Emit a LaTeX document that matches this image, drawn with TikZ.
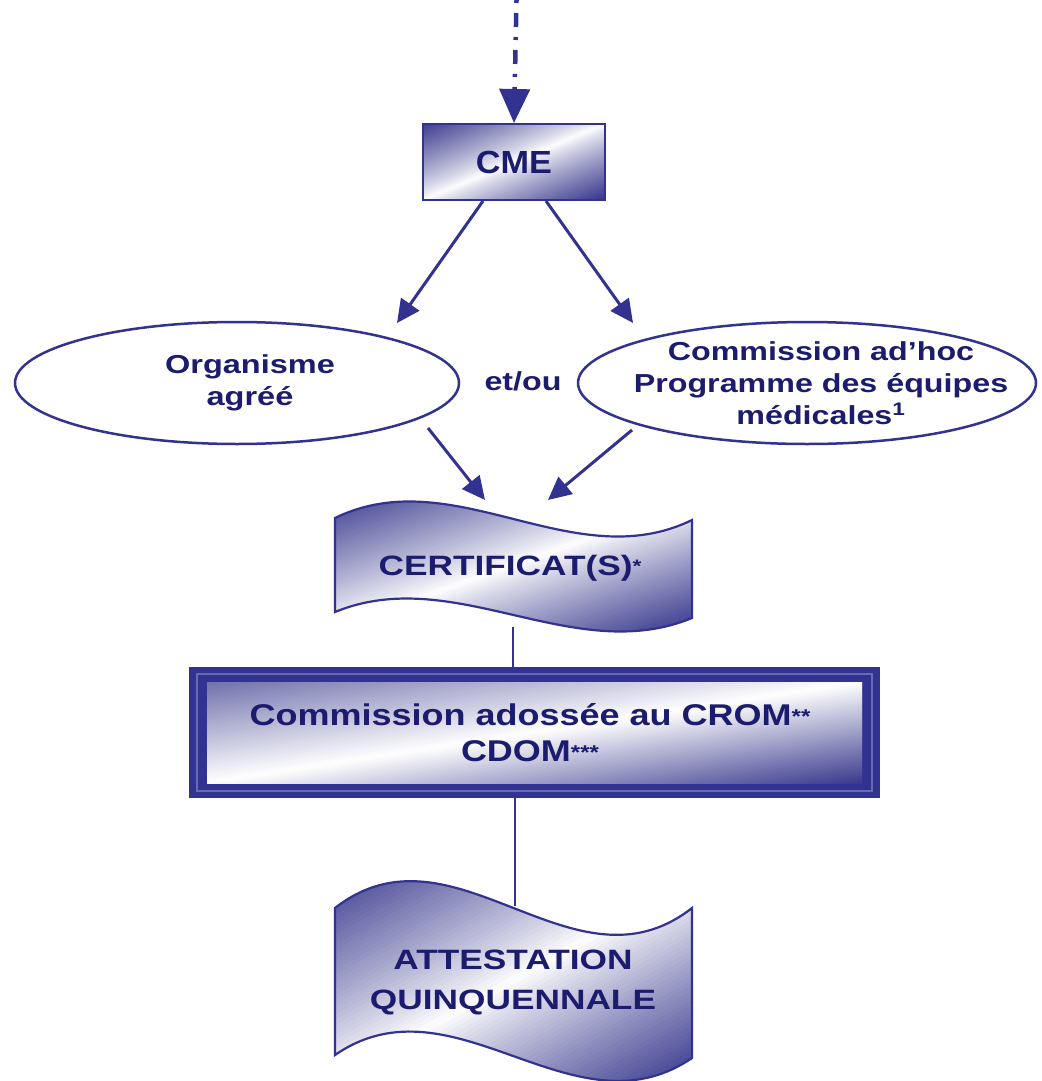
\documentclass[tikz,border=0pt]{standalone}
\usepackage{fontspec}
\setmainfont{Liberation Sans}
\usetikzlibrary{arrows.meta,shapes.geometric}

\definecolor{navytext}{RGB}{28,28,110}
\definecolor{linkblue}{RGB}{50,50,145}
\definecolor{shadeblue}{RGB}{45,45,135}
\definecolor{framelight}{RGB}{105,105,180}

% horizontally widened text, as in the flowchart's lettering
\newcommand{\stretchtxt}[2][1.27]{\scalebox{#1}[1]{#2}}

% diagonal fill of the area with top-left corner (#1,#2), size #3 x #4:
% dark at the top-left (#5 %) and bottom-right (#6 %) corners,
% white along the rising diagonal, falloff exponent #7; used inside a clip
\newcommand{\diagstrips}[7]{%
  \foreach \k in {-12,...,91}{%
    \pgfmathsetmacro{\ca}{\k/40}%
    \pgfmathsetmacro{\cb}{(\k+1.4)/40}%
    \pgfmathsetmacro{\dd}{min(abs((\k+0.5)/40-1),1)}%
    \pgfmathsetmacro{\pct}{((\k+0.5)/40<1 ? #5 : #6)*pow(\dd,#7)}%
    \fill[shadeblue!\pct!white]
      ({#1+(\ca+1)*#3},{#2-#4}) -- ({#1+(\cb+1)*#3},{#2-#4})
      -- ({#1+(\cb-2)*#3},{#2+2*#4}) -- ({#1+(\ca-2)*#3},{#2+2*#4}) -- cycle;
  }}

\begin{document}
\begin{tikzpicture}[x=1pt,y=-1pt,
  link/.style={draw=linkblue, line width=3pt, -{Triangle[length=23pt,width=22pt]}},
  plainlink/.style={draw=linkblue, line width=2pt},
  feedlink/.style={draw=linkblue, line width=4.5pt,
    dash pattern=on 14pt off 10pt on 3pt off 10pt,
    -{Triangle[length=34pt,width=30pt]}},
  label/.style={text=navytext, align=center, inner sep=0pt},
  ovalbox/.style={ellipse, draw=linkblue, line width=2.5pt, fill=white,
    inner sep=0pt, minimum height=122pt},
  ovaltext/.style={label, font=\fontsize{26}{32}\selectfont\bfseries},
]
\useasboundingbox[fill=white] (0,0) rectangle (1041,1081);

% ---- CME box
\begin{scope}
  \clip (423,124) rectangle (605,200);
  \diagstrips{423}{124}{182}{76}{92}{96}{0.85}
\end{scope}
\node[draw=linkblue, line width=2pt,
      minimum width=182pt, minimum height=76pt, inner sep=0pt, text=navytext,
      font=\fontsize{32}{36}\selectfont\bfseries] (cme) at (514,162)
      {\stretchtxt[1.07]{CME}};

\coordinate (feed) at (517,-24);
\draw[feedlink] (feed) -- (cme.north);

% ---- the two ovals
\node[ovalbox, minimum width=444pt] (org) at (237,383) {};
\node[ovaltext] (orgtext) at ([xshift=13pt]org.center)
  {\stretchtxt[1.25]{Organisme}\\\stretchtxt[1.25]{agréé}};
\node[ovalbox, minimum width=458pt] (adhoc) at (807,383) {};
\node[ovaltext] (adhoctext) at ([xshift=14pt]adhoc.center)
  {\stretchtxt[1.24]{Commission ad’hoc}\\
   \stretchtxt[1.24]{Programme des équipes}\\
   \stretchtxt[1.24]{médicales\textsuperscript{1}}};
\node[label, font=\fontsize{26}{30}\selectfont\bfseries] (etou) at (523,381)
  {\stretchtxt[1.24]{et/ou}};

\coordinate (orgin) at (397,323);
\coordinate (adhocin) at (633,323);
\draw[link] ([xshift=-31pt]cme.south) -- (orgin);
\draw[link] ([xshift=32pt]cme.south) -- (adhocin);

% ---- certificate banner
\begin{scope}
  \clip (335,518) .. controls (454,460) and (573,578) .. (692,520)
    -- (692,618) .. controls (573,667) and (454,563) .. (335,612) -- cycle;
  \diagstrips{335}{502}{357}{126}{88}{94}{0.9}
\end{scope}
\draw[linkblue, line width=2.2pt]
  (335,518) .. controls (454,460) and (573,578) .. (692,520)
  -- (692,618) .. controls (573,667) and (454,563) .. (335,612) -- cycle;
\node[label, font=\fontsize{28}{32}\selectfont\bfseries] (cert) at (510,568)
  {\stretchtxt[1.26]{CERTIFICAT(S)\raisebox{3pt}{\fontsize{18}{18}\selectfont *}}};

\coordinate (orgout) at ([shift={(191,45)}]org.center);
\coordinate (adhocout) at ([shift={(-175,47)}]adhoc.center);
\coordinate (certinL) at (485,500);
\coordinate (certinR) at (548,500);
\coordinate (certout) at (513,627);
\draw[link] (orgout) -- (certinL);
\draw[link] (adhocout) -- (certinR);

% ---- commission frame
\node[fill=linkblue, minimum width=691pt, minimum height=131pt, inner sep=0pt]
  (crom) at (534.5,732.5) {};
\draw[framelight, line width=1.5pt]
  ([shift={(8,7)}]crom.north west) rectangle ([shift={(-8,-7)}]crom.south east);
\begin{scope}
  \clip (207,682) rectangle (862,783);
  \diagstrips{207}{682}{655}{101}{68}{94}{1.0}
\end{scope}
\node[label, font=\fontsize{30}{36}\selectfont\bfseries] (cromtext) at (530,733)
  {\stretchtxt[1.2]{Commission adossée au CROM\raisebox{2pt}{\fontsize{20}{20}\selectfont **}}\\
   \stretchtxt[1.2]{CDOM\raisebox{2pt}{\fontsize{20}{20}\selectfont ***}}};

\draw[plainlink] (certout) -- (certout |- crom.north);

% ---- attestation banner
\begin{scope}
  \clip (335,908) .. controls (454,815) and (573,1001) .. (692,908)
    -- (692,1058) .. controls (573,1139) and (454,973) .. (335,1055) -- cycle;
  \diagstrips{335}{880}{357}{200}{88}{94}{0.9}
\end{scope}
\draw[linkblue, line width=2.2pt]
  (335,908) .. controls (454,815) and (573,1001) .. (692,908)
  -- (692,1058) .. controls (573,1139) and (454,973) .. (335,1055) -- cycle;
\node[label, font=\fontsize{28}{40}\selectfont\bfseries] (attest) at (513,982)
  {\stretchtxt[1.26]{ATTESTATION}\\\stretchtxt[1.26]{QUINQUENNALE}};

\coordinate (attin) at (515,906);
\draw[plainlink] (attin |- crom.south) -- (attin);
\end{tikzpicture}
\end{document}
